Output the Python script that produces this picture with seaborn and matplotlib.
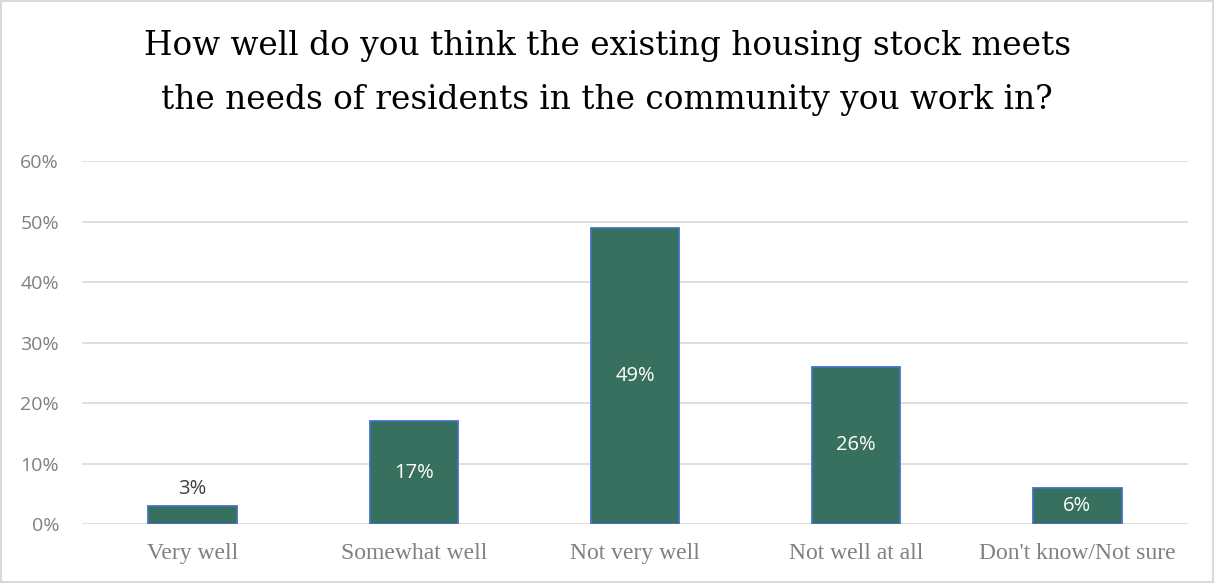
import matplotlib
matplotlib.use("Agg")
import matplotlib.pyplot as plt
import seaborn as sns
import pandas as pd
from matplotlib.patches import Rectangle
from matplotlib.ticker import FuncFormatter

categories = ["Very well", "Somewhat well", "Not very well", "Not well at all", "Don't know/Not sure"]
values = [3, 17, 49, 26, 6]
yticks = [0, 10, 20, 30, 40, 50, 60]
title_lines = ["How well do you think the existing housing stock meets",
               "the needs of residents in the community you work in?"]

sns.set_theme(style="white")
df = pd.DataFrame({"cat": categories, "val": values})

fig = plt.figure(figsize=(12.15, 5.83), dpi=100)
ax = fig.add_axes([0.0675, 0.1012, 0.9103, 0.6226])
sns.barplot(data=df, x="cat", y="val", ax=ax, color="#37705E", saturation=1,
            width=0.4, edgecolor="#4472C4", linewidth=1.3, zorder=3)
ax.set_ylim(0, 60)
ax.set_xlim(-0.5, 4.5)
ax.set_yticks(yticks)
ax.yaxis.set_major_formatter(FuncFormatter(lambda v, p: f"{int(v)}%"))
ax.grid(axis="y", color="#D9D9D9", linewidth=1.2, zorder=0)
for s in ax.spines.values():
    s.set_visible(False)
ax.set_xlabel("")
ax.set_ylabel("")
ax.tick_params(axis="y", length=0, pad=16.5, labelsize=14, labelcolor="#808080")
ax.tick_params(axis="x", length=0, pad=14, labelsize=17, labelcolor="#808080")
for lab in ax.get_yticklabels():
    lab.set_family("Open Sans")
for lab in ax.get_xticklabels():
    lab.set_family("Liberation Serif")

for i, v in enumerate(values):
    if v < 5:
        ax.text(i, v + 1.2, f"{v}%", ha="center", va="bottom", color="#404040",
                fontsize=14.5, family="Open Sans")
    else:
        ax.text(i, v / 2, f"{v}%", ha="center", va="center", color="white",
                fontsize=14.5, family="Open Sans")

t1 = fig.text(0.4996, 1 - 55 / 583, title_lines[0], ha="center", va="baseline",
              fontsize=20, family="DejaVu Serif", color="black")
t2 = fig.text(0.4996, 1 - 109 / 583, title_lines[1], ha="center", va="baseline",
              fontsize=20, family="DejaVu Serif", color="black")
fig.canvas.draw()
w = t1.get_window_extent().width
fs = 20 * 925 / w
t1.set_fontsize(fs)
t2.set_fontsize(fs)

fig.patches.append(Rectangle((0.001, 0.001), 0.997, 0.997, transform=fig.transFigure,
                             fill=False, edgecolor="#D9D9D9", linewidth=1.5))
fig.savefig("out.png", dpi=100)
